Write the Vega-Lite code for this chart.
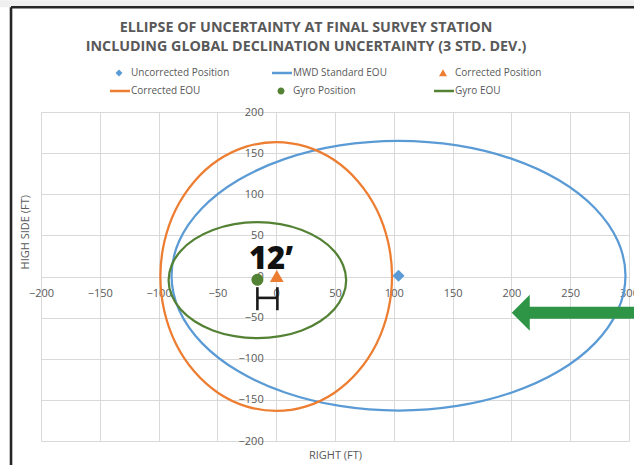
{
  "$schema": "https://vega.github.io/schema/vega-lite/v6.json",
  "width": 588,
  "height": 329,
  "autosize": {"type": "none"},
  "padding": {"left": 41, "top": 112, "right": 5, "bottom": 24},
  "background": "#ffffff",
  "title": {
    "text": ["ELLIPSE OF UNCERTAINTY AT FINAL SURVEY STATION", "INCLUDING GLOBAL DECLINATION UNCERTAINTY (3 STD. DEV.)"],
    "font": "Open Sans",
    "fontSize": 14.3,
    "fontWeight": "bold",
    "color": "#595959",
    "anchor": "middle",
    "frame": "group",
    "dx": -29,
    "dy": 54.5,
    "lineHeight": 19,
    "offset": 0
  },
  "config": {
    "view": {"stroke": null},
    "font": "Open Sans",
    "axis": {
      "labelFont": "Open Sans",
      "labelFontSize": 11,
      "labelColor": "#595959",
      "titleFont": "Open Sans",
      "titleFontSize": 11,
      "titleFontWeight": "normal",
      "titleColor": "#595959",
      "gridColor": "#d9d9d9",
      "gridWidth": 1,
      "gridOpacity": 1,
      "domain": false,
      "ticks": false,
      "labelFlush": false,
      "labelOverlap": false,
      "labelBound": false
    }
  },
  "datasets": {
    "ellipses": [
      {"series": "MWD Standard EOU", "i": 0, "x": 297, "y": 1},
      {"series": "MWD Standard EOU", "i": 1, "x": 290.4, "y": 43.4},
      {"series": "MWD Standard EOU", "i": 2, "x": 271.1, "y": 83},
      {"series": "MWD Standard EOU", "i": 3, "x": 240.5, "y": 117},
      {"series": "MWD Standard EOU", "i": 4, "x": 200.5, "y": 143},
      {"series": "MWD Standard EOU", "i": 5, "x": 153.9, "y": 159.4},
      {"series": "MWD Standard EOU", "i": 6, "x": 104, "y": 165},
      {"series": "MWD Standard EOU", "i": 7, "x": 54.1, "y": 159.4},
      {"series": "MWD Standard EOU", "i": 8, "x": 7.5, "y": 143},
      {"series": "MWD Standard EOU", "i": 9, "x": -32.5, "y": 117},
      {"series": "MWD Standard EOU", "i": 10, "x": -63.1, "y": 83},
      {"series": "MWD Standard EOU", "i": 11, "x": -82.4, "y": 43.4},
      {"series": "MWD Standard EOU", "i": 12, "x": -89, "y": 1},
      {"series": "MWD Standard EOU", "i": 13, "x": -82.4, "y": -41.4},
      {"series": "MWD Standard EOU", "i": 14, "x": -63.1, "y": -81},
      {"series": "MWD Standard EOU", "i": 15, "x": -32.5, "y": -115},
      {"series": "MWD Standard EOU", "i": 16, "x": 7.5, "y": -141},
      {"series": "MWD Standard EOU", "i": 17, "x": 54.1, "y": -157.4},
      {"series": "MWD Standard EOU", "i": 18, "x": 104, "y": -163},
      {"series": "MWD Standard EOU", "i": 19, "x": 153.9, "y": -157.4},
      {"series": "MWD Standard EOU", "i": 20, "x": 200.5, "y": -141},
      {"series": "MWD Standard EOU", "i": 21, "x": 240.5, "y": -115},
      {"series": "MWD Standard EOU", "i": 22, "x": 271.1, "y": -81},
      {"series": "MWD Standard EOU", "i": 23, "x": 290.4, "y": -41.4},
      {"series": "Corrected EOU", "i": 0, "x": 98.5, "y": 0},
      {"series": "Corrected EOU", "i": 1, "x": 95.1, "y": 42.3},
      {"series": "Corrected EOU", "i": 2, "x": 85.3, "y": 81.8},
      {"series": "Corrected EOU", "i": 3, "x": 69.6, "y": 115.6},
      {"series": "Corrected EOU", "i": 4, "x": 49.3, "y": 141.6},
      {"series": "Corrected EOU", "i": 5, "x": 25.5, "y": 157.9},
      {"series": "Corrected EOU", "i": 6, "x": 0, "y": 163.5},
      {"series": "Corrected EOU", "i": 7, "x": -25.5, "y": 157.9},
      {"series": "Corrected EOU", "i": 8, "x": -49.3, "y": 141.6},
      {"series": "Corrected EOU", "i": 9, "x": -69.6, "y": 115.6},
      {"series": "Corrected EOU", "i": 10, "x": -85.3, "y": 81.8},
      {"series": "Corrected EOU", "i": 11, "x": -95.1, "y": 42.3},
      {"series": "Corrected EOU", "i": 12, "x": -98.5, "y": 0},
      {"series": "Corrected EOU", "i": 13, "x": -95.1, "y": -42.3},
      {"series": "Corrected EOU", "i": 14, "x": -85.3, "y": -81.8},
      {"series": "Corrected EOU", "i": 15, "x": -69.6, "y": -115.6},
      {"series": "Corrected EOU", "i": 16, "x": -49.3, "y": -141.6},
      {"series": "Corrected EOU", "i": 17, "x": -25.5, "y": -157.9},
      {"series": "Corrected EOU", "i": 18, "x": 0, "y": -163.5},
      {"series": "Corrected EOU", "i": 19, "x": 25.5, "y": -157.9},
      {"series": "Corrected EOU", "i": 20, "x": 49.3, "y": -141.6},
      {"series": "Corrected EOU", "i": 21, "x": 69.6, "y": -115.6},
      {"series": "Corrected EOU", "i": 22, "x": 85.3, "y": -81.8},
      {"series": "Corrected EOU", "i": 23, "x": 95.1, "y": -42.3},
      {"series": "Gyro EOU", "i": 0, "x": 59.5, "y": -4.5},
      {"series": "Gyro EOU", "i": 1, "x": 56.9, "y": 13.7},
      {"series": "Gyro EOU", "i": 2, "x": 49.4, "y": 30.8},
      {"series": "Gyro EOU", "i": 3, "x": 37.4, "y": 45.4},
      {"series": "Gyro EOU", "i": 4, "x": 21.8, "y": 56.6},
      {"series": "Gyro EOU", "i": 5, "x": 3.5, "y": 63.6},
      {"series": "Gyro EOU", "i": 6, "x": -16, "y": 66},
      {"series": "Gyro EOU", "i": 7, "x": -35.5, "y": 63.6},
      {"series": "Gyro EOU", "i": 8, "x": -53.8, "y": 56.6},
      {"series": "Gyro EOU", "i": 9, "x": -69.4, "y": 45.4},
      {"series": "Gyro EOU", "i": 10, "x": -81.4, "y": 30.8},
      {"series": "Gyro EOU", "i": 11, "x": -88.9, "y": 13.7},
      {"series": "Gyro EOU", "i": 12, "x": -91.5, "y": -4.5},
      {"series": "Gyro EOU", "i": 13, "x": -88.9, "y": -22.7},
      {"series": "Gyro EOU", "i": 14, "x": -81.4, "y": -39.8},
      {"series": "Gyro EOU", "i": 15, "x": -69.4, "y": -54.4},
      {"series": "Gyro EOU", "i": 16, "x": -53.8, "y": -65.6},
      {"series": "Gyro EOU", "i": 17, "x": -35.5, "y": -72.6},
      {"series": "Gyro EOU", "i": 18, "x": -16, "y": -75},
      {"series": "Gyro EOU", "i": 19, "x": 3.5, "y": -72.6},
      {"series": "Gyro EOU", "i": 20, "x": 21.8, "y": -65.6},
      {"series": "Gyro EOU", "i": 21, "x": 37.4, "y": -54.4},
      {"series": "Gyro EOU", "i": 22, "x": 49.4, "y": -39.8},
      {"series": "Gyro EOU", "i": 23, "x": 56.9, "y": -22.7}
    ],
    "points": [
      {"series": "Uncorrected Position", "x": 104, "y": 1},
      {"series": "Corrected Position", "x": 0.5, "y": 0},
      {"series": "Gyro Position", "x": -16, "y": -4}
    ],
    "bracket": [
      {"x": -16, "y": -13, "x2": -16, "y2": -41},
      {"x": 1, "y": -13, "x2": 1, "y2": -41},
      {"x": -16, "y": -26, "x2": 1, "y2": -26}
    ],
    "note": [
      {"text": "12’", "x": -4.5, "y": 9}
    ],
    "arrowShaft": [
      {"x": 214, "x2": 306, "y": -44}
    ],
    "arrowHead": [
      {"x": 200.3, "y": -44}
    ],
    "frameBand": [
      {"x": -240, "x2": 310, "y": 327.5, "y2": 336}
    ],
    "frameLines": [
      {"x": -225.5, "y": 327.3, "x2": 310, "y2": 327.3},
      {"x": -225.5, "y": 327.3, "x2": -225.5, "y2": -240}
    ]
  },
  "encoding": {
    "x": {
      "field": "x",
      "type": "quantitative",
      "scale": {"domain": [-200, 300], "nice": false, "zero": false},
      "axis": {
        "orient": "bottom",
        "offset": -164.5,
        "values": [-200, -150, -100, -50, 0, 50, 100, 150, 200, 250, 300],
        "grid": true,
        "labelPadding": 11,
        "title": "RIGHT (FT)",
        "titleY": 178.5,
        "titleBaseline": "middle"
      }
    },
    "y": {
      "field": "y",
      "type": "quantitative",
      "scale": {"domain": [-200, 200], "nice": false, "zero": false},
      "axis": {
        "orient": "left",
        "offset": -235.2,
        "values": [-200, -150, -100, -50, 0, 50, 100, 150, 200],
        "grid": true,
        "labelPadding": 13,
        "title": "HIGH SIDE (FT)",
        "titleX": -251.2,
        "titleY": 119.7,
        "titleAngle": -90,
        "titleBaseline": "middle",
        "titleAlign": "center"
      }
    }
  },
  "layer": [
    {
      "data": {"name": "frameBand"},
      "mark": {"type": "rect", "color": "#efefef"},
      "encoding": {"x2": {"field": "x2"}, "y2": {"field": "y2"}}
    },
    {
      "data": {"name": "frameLines"},
      "mark": {"type": "rule", "color": "#262626", "strokeWidth": 2.6},
      "encoding": {"x2": {"field": "x2"}, "y2": {"field": "y2"}}
    },
    {
      "data": {"name": "ellipses"},
      "transform": [{"filter": "datum.series === 'MWD Standard EOU'"}],
      "mark": {"type": "line", "color": "#5b9bd5", "strokeWidth": 2.25, "interpolate": "cardinal-closed"},
      "encoding": {"order": {"field": "i", "type": "quantitative"}}
    },
    {
      "data": {"name": "ellipses"},
      "transform": [{"filter": "datum.series === 'Corrected EOU'"}],
      "mark": {"type": "line", "color": "#ed7d31", "strokeWidth": 2.25, "interpolate": "cardinal-closed"},
      "encoding": {"order": {"field": "i", "type": "quantitative"}}
    },
    {
      "data": {"name": "ellipses"},
      "transform": [{"filter": "datum.series === 'Gyro EOU'"}],
      "mark": {"type": "line", "color": "#548235", "strokeWidth": 2.25, "interpolate": "cardinal-closed"},
      "encoding": {"order": {"field": "i", "type": "quantitative"}}
    },
    {
      "data": {"name": "points"},
      "mark": {"type": "point", "filled": true, "opacity": 1, "size": 294, "strokeWidth": 0},
      "encoding": {
        "color": {
          "field": "series",
          "type": "nominal",
          "scale": {
            "domain": ["Uncorrected Position", "MWD Standard EOU", "Corrected Position", "Corrected EOU", "Gyro Position", "Gyro EOU"],
            "range": ["#5b9bd5", "#5b9bd5", "#ed7d31", "#ed7d31", "#548235", "#548235"]
          },
          "legend": {
            "title": null,
            "orient": "none",
            "legendX": 73,
            "legendY": -44,
            "columns": 3,
            "direction": "horizontal",
            "gridAlign": "all",
            "columnPadding": 42,
            "rowPadding": 8,
            "padding": 0,
            "symbolSize": 100,
            "symbolStrokeWidth": 0,
            "labelOffset": 7,
            "labelFont": "Open Sans",
            "labelFontSize": 10,
            "labelColor": "#595959",
            "labelLimit": 300
          }
        },
        "shape": {
          "field": "series",
          "type": "nominal",
          "scale": {
            "domain": ["Uncorrected Position", "MWD Standard EOU", "Corrected Position", "Corrected EOU", "Gyro Position", "Gyro EOU"],
            "range": [
              "M0,-0.7L0.7,0L0,0.7L-0.7,0Z",
              "M-1.8,-0.25L2.2,-0.25L2.2,0.25L-1.8,0.25Z",
              "M0,-0.75L0.8,0.65L-0.8,0.65Z",
              "M-1.8,-0.25L2.2,-0.25L2.2,0.25L-1.8,0.25Z",
              "M0.7,0A0.7,0.7,0,1,1,-0.7,0A0.7,0.7,0,1,1,0.7,0Z",
              "M-1.8,-0.25L2.2,-0.25L2.2,0.25L-1.8,0.25Z"
            ]
          },
          "legend": {
            "title": null,
            "orient": "none",
            "legendX": 73,
            "legendY": -44,
            "columns": 3,
            "direction": "horizontal",
            "gridAlign": "all",
            "columnPadding": 42,
            "rowPadding": 8,
            "padding": 0,
            "symbolSize": 100,
            "symbolStrokeWidth": 0,
            "labelOffset": 7,
            "labelFont": "Open Sans",
            "labelFontSize": 10,
            "labelColor": "#595959",
            "labelLimit": 300
          }
        }
      }
    },
    {
      "data": {"name": "bracket"},
      "mark": {"type": "rule", "color": "#1a1a1a", "strokeWidth": 2.6},
      "encoding": {"x2": {"field": "x2"}, "y2": {"field": "y2"}}
    },
    {
      "data": {"name": "note"},
      "mark": {"type": "text", "font": "Open Sans", "fontSize": 31, "fontWeight": 800, "color": "#111111", "align": "center", "baseline": "alphabetic"},
      "encoding": {"text": {"field": "text"}}
    },
    {
      "data": {"name": "arrowShaft"},
      "mark": {"type": "rule", "color": "#2e9446", "strokeWidth": 12, "strokeCap": "butt"},
      "encoding": {"x2": {"field": "x2"}}
    },
    {
      "data": {"name": "arrowHead"},
      "mark": {"type": "point", "filled": true, "opacity": 1, "color": "#2e9446", "shape": "M0,0L1,-1L1,1Z", "size": 1296, "strokeWidth": 0}
    }
  ]
}
